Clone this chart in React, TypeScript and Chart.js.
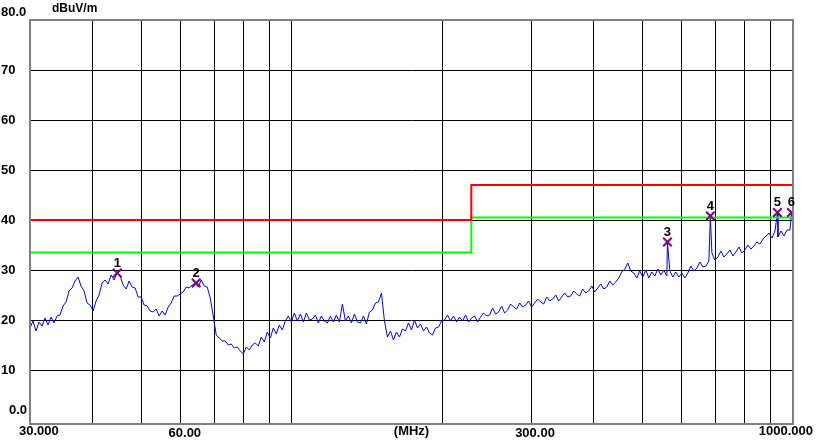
import React, { useEffect, useRef } from "react";
import { Chart, registerables } from "chart.js";
Chart.register(...registerables);

const F_START = 30;
const F_STOP = 1000;

// measured level (dBuV/m) along the log sweep 30 MHz .. 1000 MHz
const traceLevels = [
  18.4, 19.8, 17.8, 19.6, 18.8, 20.4, 19.0, 20.6, 19.4, 20.8,
  21.0, 22.8, 23.6, 25.8, 26.4, 27.8, 28.6, 26.8, 25.8, 23.4,
  23.0, 21.8, 23.8, 25.0, 27.4, 28.0, 27.2, 29.0, 28.0, 29.4,
  28.8, 27.0, 26.2, 27.8, 26.6, 26.4, 24.6, 24.6, 23.0, 22.8,
  21.8, 21.6, 22.2, 20.8, 21.8, 21.0, 22.6, 23.4, 24.8, 24.8,
  25.2, 25.6, 26.6, 26.4, 27.0, 27.4, 26.6, 28.0, 26.8, 26.6,
  24.4, 20.8, 17.0, 16.4, 15.8, 15.8, 15.0, 15.2, 14.4, 14.6,
  13.8, 13.2, 14.6, 14.0, 15.0, 15.4, 14.8, 16.6, 15.6, 17.6,
  16.4, 18.4, 17.2, 19.0, 18.0, 19.8, 20.8, 19.6, 21.4, 19.8,
  21.2, 19.6, 21.4, 20.0, 20.2, 21.0, 19.4, 20.8, 19.8, 19.4,
  20.8, 19.6, 21.0, 19.6, 23.2, 19.8, 20.8, 19.4, 21.2, 19.6,
  19.4, 20.8, 19.2, 21.6, 22.0, 23.4, 23.6, 25.4, 19.8, 16.6,
  17.8, 16.0, 17.6, 16.6, 18.2, 17.8, 19.4, 18.0, 20.0, 18.4,
  19.2, 17.8, 18.6, 17.4, 17.0, 18.4, 18.6, 19.8, 20.0, 21.0,
  19.8, 20.8, 19.6, 20.6, 19.8, 21.0, 19.6, 20.4, 20.8, 19.6,
  20.6, 21.4, 20.8, 21.0, 22.4, 21.2, 21.6, 22.8, 21.4, 22.0,
  23.2, 22.6, 22.2, 23.4, 22.6, 23.0, 23.8, 22.6, 23.4, 24.2,
  23.6, 23.2, 24.6, 23.8, 24.2, 25.0, 23.8, 24.6, 25.4, 24.6,
  24.8, 25.8, 25.2, 24.8, 26.2, 25.4, 25.8, 26.8, 25.6, 26.4,
  27.2, 26.2, 26.6, 27.8, 27.0, 27.6, 28.4, 29.6, 30.2, 31.4,
  29.8, 29.4, 28.4, 29.8, 28.6, 30.0, 28.4, 29.6, 28.8, 30.2,
  29.0, 30.0, 28.8, 29.8, 28.6, 29.6, 28.6, 29.4, 28.4, 29.4,
  30.8, 29.8, 30.4, 31.6, 30.6, 30.8, 31.8, 33.4, 32.0, 32.6,
  33.8, 32.6, 33.2, 34.0, 32.8, 33.6, 34.6, 33.4, 34.0, 35.0,
  34.2, 34.8, 35.6, 35.2, 36.2, 36.8, 37.4, 36.4, 37.8, 36.6,
  37.8, 36.8, 38.0, 38.0, 39.0,
];

// narrow emission spikes
const spikeFreqs = [561.6, 684.0, 931.0, 993.0];
const spikeLevels = [35.6, 40.8, 41.5, 41.5];

// markers
const markerFreqs = [44.8, 64.4, 561.6, 684.0, 931.0, 993.0];
const markerLevels = [29.4, 27.4, 35.6, 40.8, 41.5, 41.5];
const markerLabels = ["1", "2", "3", "4", "5", "6"];

// limit (red) and margin (green) lines
const limitFreqs = [30, 228, 228, 1000];
const limitLevels = [40, 40, 47, 47];
const marginLevels = [33.5, 33.5, 40.5, 40.5];

// axes
const xGridFreqs = [30, 40, 50, 60, 70, 80, 90, 100, 200, 300, 400, 500, 600, 700, 800, 900, 1000];
const xLabelFreqs = [30, 60, 300, 1000];
const xLabelTexts = ["30.000", "60.00", "300.00", "1000.000"];
const xUnit = "(MHz)";
const yTicks = [0, 10, 20, 30, 40, 50, 60, 70, 80];
const yTickLabels = ["0.0", "10", "20", "30", "40", "50", "60", "70", "80.0"];
const yUnit = "dBuV/m";

const FONT = '"Liberation Sans", Arial, sans-serif';

export default function App() {
  const ref = useRef<HTMLCanvasElement | null>(null);

  useEffect(() => {
    const canvas = ref.current;
    if (!canvas) return;

    const n = traceLevels.length;
    const sweep = traceLevels.map((v, i) => ({
      x: F_START * Math.pow(F_STOP / F_START, i / (n - 1)),
      y: v,
    }));
    const spikes = spikeFreqs.map((f, i) => ({ x: f, y: spikeLevels[i] }));
    const trace = sweep.concat(spikes).sort((a, b) => a.x - b.x);

    const markers = markerFreqs.map((f, i) => ({ x: f, y: markerLevels[i] }));
    const limit = limitFreqs.map((f, i) => ({ x: f, y: limitLevels[i] }));
    const margin = limitFreqs.map((f, i) => ({ x: f, y: marginLevels[i] }));

    const overlay = {
      id: "overlay",
      afterDraw(chart: any) {
        const { ctx, chartArea: a, scales } = chart;
        const xs = scales.x;
        const ys = scales.y;
        ctx.save();
        ctx.strokeStyle = "#808080";
        ctx.lineWidth = 2;
        ctx.strokeRect(a.left, a.top, a.right - a.left, a.bottom - a.top);

        ctx.fillStyle = "#000";
        ctx.font = "bold 13px " + FONT;
        ctx.textBaseline = "middle";
        yTicks.forEach((v, i) => {
          const py = ys.getPixelForValue(v);
          if (v === 80) {
            ctx.textAlign = "left";
            ctx.fillText(yTickLabels[i], 1, py - 8);
          } else if (v === 0) {
            ctx.textAlign = "right";
            ctx.fillText(yTickLabels[i], 27, py - 10);
          } else {
            ctx.textAlign = "left";
            ctx.fillText(yTickLabels[i], 1, py);
          }
        });
        ctx.font = "bold 12px " + FONT;
        ctx.textAlign = "left";
        ctx.fillText(yUnit, 52, 9);

        ctx.font = "bold 13px " + FONT;
        xLabelFreqs.forEach((f, i) => {
          const px = xs.getPixelForValue(f);
          if (i === 0) {
            ctx.textAlign = "left";
            ctx.fillText(xLabelTexts[i], px - 11, a.bottom + 7);
          } else if (i === xLabelFreqs.length - 1) {
            ctx.textAlign = "right";
            ctx.fillText(xLabelTexts[i], px + 20, a.bottom + 7);
          } else {
            ctx.textAlign = "center";
            ctx.fillText(xLabelTexts[i], px + 4, a.bottom + 9);
          }
        });
        ctx.textAlign = "center";
        ctx.fillText(xUnit, (a.left + a.right) / 2, a.bottom + 7);

        const meta = chart.getDatasetMeta(0);
        meta.data.forEach((pt: any, i: number) => {
          ctx.fillText(markerLabels[i], pt.x, pt.y - 10);
        });
        ctx.restore();
      },
    };

    const chart = new Chart(canvas, {
      type: "line",
      data: {
        datasets: [
          {
            label: "markers",
            data: markers,
            showLine: false,
            pointStyle: "crossRot",
            pointRadius: 6,
            pointBorderWidth: 2,
            pointBorderColor: "#800080",
            pointBackgroundColor: "#800080",
            borderColor: "#800080",
          },
          {
            label: "limit",
            data: limit,
            borderColor: "#FF0000",
            borderWidth: 2,
            pointRadius: 0,
            tension: 0,
          },
          {
            label: "margin",
            data: margin,
            borderColor: "#00FF00",
            borderWidth: 2,
            pointRadius: 0,
            tension: 0,
          },
          {
            label: "trace",
            data: trace,
            borderColor: "#0000FF",
            borderWidth: 1,
            pointRadius: 0,
            tension: 0,
          },
        ],
      },
      options: {
        responsive: false,
        animation: false,
        devicePixelRatio: 1,
        layout: { padding: { top: 20, right: 29, left: 0, bottom: 0 } },
        plugins: {
          legend: { display: false },
          tooltip: { enabled: false },
          title: { display: false },
        },
        scales: {
          x: {
            type: "logarithmic",
            min: F_START,
            max: F_STOP,
            afterBuildTicks: (s: any) => {
              s.ticks = xGridFreqs.map((v) => ({ value: v }));
            },
            afterFit: (s: any) => {
              s.height = 20;
            },
            ticks: { display: false },
            grid: { color: "#000000", lineWidth: 1, drawTicks: false },
            border: { display: false },
          },
          y: {
            type: "linear",
            min: -0.8,
            max: 80,
            afterBuildTicks: (s: any) => {
              s.ticks = yTicks.map((v) => ({ value: v }));
            },
            afterFit: (s: any) => {
              s.width = 30;
            },
            ticks: { display: false },
            grid: {
              color: (c: any) => (c.tick && c.tick.value === 0 ? "rgba(0,0,0,0)" : "#000000"),
              lineWidth: 1,
              drawTicks: false,
            },
            border: { display: false },
          },
        },
      },
      plugins: [overlay],
    } as any);

    return () => chart.destroy();
  }, []);

  return (
    <div style={{ position: "fixed", left: 0, top: 0, width: 822, height: 444, background: "#fff" }}>
      <canvas ref={ref} width={822} height={444} style={{ display: "block" }} />
    </div>
  );
}
